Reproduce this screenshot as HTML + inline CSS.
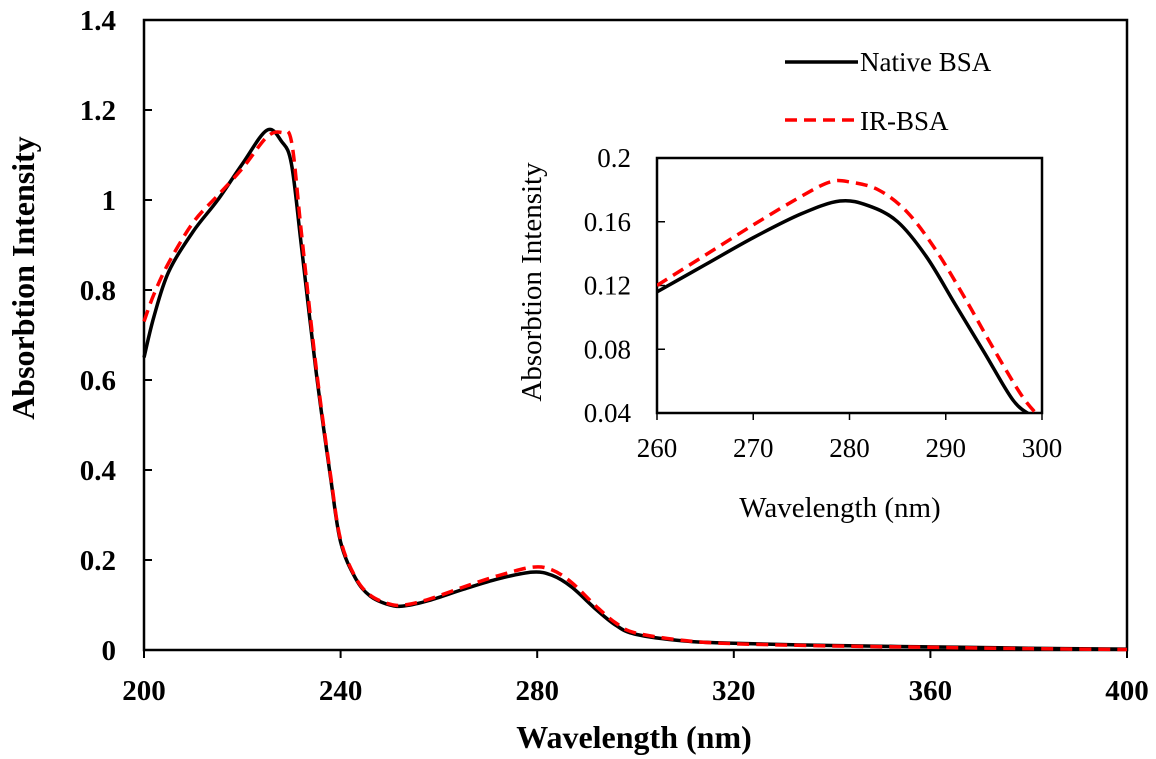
<!DOCTYPE html>
<html><head><meta charset="utf-8"><style>
body{margin:0;background:#fff}
svg{display:block}
text{font-family:"Liberation Serif",serif;fill:#000}
.b{font-weight:bold;font-size:29px}
.t{font-weight:bold;font-size:32px}
.n{font-size:27px}
.it{font-size:29px}
.l{font-size:27px}
</style></head><body>
<svg id="c" width="1156" height="759"></svg>
<script>
const wl=[200,202,205,210,215,220,225,228,230,232,235,238,240,243,246,250,253,258,265,272,279,283,287,292,296,300,310,320,340,360,380,400];
const nativeV=[0.65,0.74,0.84,0.93,1.0,1.08,1.155,1.13,1.08,0.9,0.62,0.38,0.24,0.16,0.12,0.10,0.098,0.11,0.135,0.158,0.173,0.166,0.14,0.09,0.055,0.035,0.02,0.015,0.01,0.007,0.004,0.002];
const irV=[0.73,0.79,0.86,0.95,1.01,1.07,1.14,1.15,1.13,0.93,0.63,0.385,0.245,0.162,0.122,0.102,0.1,0.113,0.14,0.165,0.184,0.178,0.15,0.097,0.06,0.038,0.021,0.014,0.009,0.006,0.003,0.001];
const xTicks=[200,240,280,320,360,400];
const yTicks=[0,0.2,0.4,0.6,0.8,1,1.2,1.4];
const inWl=[260,265,270,275,279,282,285,288,291,294,297,299,300];
const inNative=[0.116,0.133,0.150,0.165,0.173,0.170,0.160,0.138,0.108,0.078,0.048,0.038,0.034];
const inWlIR=[260,265,270,275,278,280,283,286,289,292,295,298,300];
const inIR=[0.12,0.139,0.158,0.176,0.185,0.185,0.180,0.166,0.142,0.112,0.080,0.05,0.036];
const inXTicks=[260,270,280,290,300];
const inYTicks=[0.04,0.08,0.12,0.16,0.2];

const svg=document.getElementById('c');const NS='http://www.w3.org/2000/svg';
function el(t,a,p){const e=document.createElementNS(NS,t);for(const k in a)e.setAttribute(k,a[k]);(p||svg).appendChild(e);return e;}
function path(xs,ys,X,Y){const p=xs.map((x,i)=>[X(x),Y(ys[i])]);let d='M'+p[0][0]+','+p[0][1];
for(let i=0;i<p.length-1;i++){const p0=p[Math.max(0,i-1)],p1=p[i],p2=p[i+1],p3=p[Math.min(p.length-1,i+2)];
d+=' C'+(p1[0]+(p2[0]-p0[0])/6)+','+(p1[1]+(p2[1]-p0[1])/6)+' '+(p2[0]-(p3[0]-p1[0])/6)+','+(p2[1]-(p3[1]-p1[1])/6)+' '+p2[0]+','+p2[1];}return d;}
// main
const X=v=>144+(v-200)/200*983, Y=v=>650-v/1.4*630;
let e;
e=el('rect',{x:144,y:20,width:983,height:630,fill:'none',stroke:'#000','stroke-width':2.5});

yTicks.forEach(v=>{el('line',{x1:144,x2:152,y1:Y(v),y2:Y(v),stroke:'#000','stroke-width':2});
e=el('text',{x:116,y:Y(v)+10,'text-anchor':'end',class:'b'});e.textContent=String(v);
});
xTicks.forEach(v=>{el('line',{x1:X(v),x2:X(v),y1:650,y2:658,stroke:'#000','stroke-width':2});
e=el('text',{x:X(v),y:700,'text-anchor':'middle',class:'b'});e.textContent=String(v);
});
e=el('text',{x:634,y:748,'text-anchor':'middle',class:'t'});e.textContent='Wavelength (nm)';

e=el('text',{x:0,y:0,'text-anchor':'middle',class:'t',transform:'translate(34,278) rotate(-90)'});e.textContent='Absorbtion Intensity';

e=el('path',{d:path(wl,nativeV,X,Y),fill:'none',stroke:'#000','stroke-width':3.5});

e=el('path',{d:path(wl,irV,X,Y),fill:'none',stroke:'#f00','stroke-width':3.5,'stroke-dasharray':'12 7'});

// legend
e=el('line',{x1:785,x2:858,y1:62,y2:62,stroke:'#000','stroke-width':3.5});

e=el('text',{x:860,y:71,class:'l'});e.textContent='Native BSA';

e=el('line',{x1:785,x2:858,y1:120,y2:120,stroke:'#f00','stroke-width':3.5,'stroke-dasharray':'12 7'});

e=el('text',{x:860,y:130,class:'l'});e.textContent='IR-BSA';

// inset
const IX=v=>657+(v-260)/40*385, IY=v=>413-(v-0.04)/0.16*255;
el('clipPath',{id:'ic'});const cp=svg.lastChild;el('rect',{x:657,y:158,width:385,height:255},cp);
e=el('rect',{x:657,y:158,width:385,height:255,fill:'none',stroke:'#000','stroke-width':2.5});

inYTicks.forEach(v=>{el('line',{x1:657,x2:665,y1:IY(v),y2:IY(v),stroke:'#000','stroke-width':1.5});
e=el('text',{x:631,y:IY(v)+9,'text-anchor':'end',class:'n'});e.textContent=String(v);
});
inXTicks.forEach(v=>{el('line',{x1:IX(v),x2:IX(v),y1:413,y2:420,stroke:'#000','stroke-width':1.5});
e=el('text',{x:IX(v),y:457,'text-anchor':'middle',class:'n'});e.textContent=String(v);
});
e=el('text',{x:840,y:517,'text-anchor':'middle',class:'it'});e.textContent='Wavelength (nm)';

e=el('text',{x:0,y:0,'text-anchor':'middle',class:'it',transform:'translate(541,282) rotate(-90)'});e.textContent='Absorbtion Intensity';

e=el('path',{d:path(inWl,inNative,IX,IY),fill:'none',stroke:'#000','stroke-width':3.5,'clip-path':'url(#ic)'});

e=el('path',{d:path(inWlIR,inIR,IX,IY),fill:'none',stroke:'#f00','stroke-width':3.5,'stroke-dasharray':'12 7','clip-path':'url(#ic)'});

</script>
</body></html>
